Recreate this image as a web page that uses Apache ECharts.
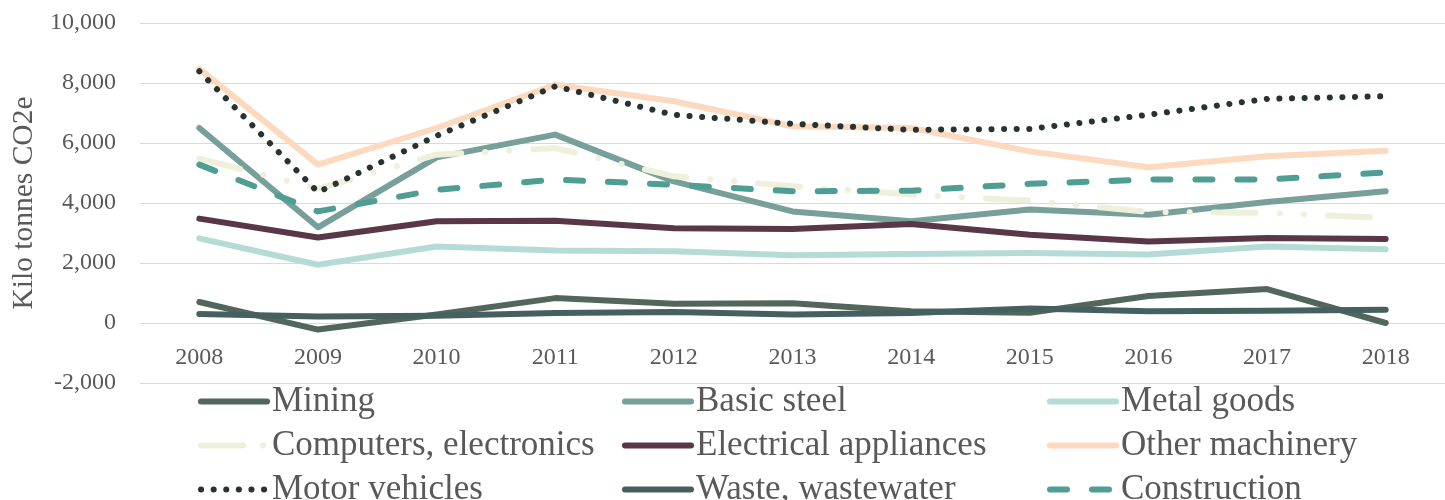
<!DOCTYPE html>
<html>
<head>
<meta charset="utf-8">
<script src="https://cdn.jsdelivr.net/npm/echarts@6/dist/echarts.min.js"></script>
<style>
  html, body { margin: 0; padding: 0; background: #fff; }
  #chart { width: 1445px; height: 500px; }
</style>
</head>
<body>
<div id="chart"></div>
<script>
// years on the category axis
const years = ['2008', '2009', '2010', '2011', '2012', '2013', '2014', '2015', '2016', '2017', '2018']

// kilo tonnes CO2e
const mining = [700, -220, 280, 830, 640, 660, 390, 340, 900, 1130, 0]
const basicSteel = [6500, 3190, 5520, 6280, 4720, 3720, 3390, 3780, 3610, 4030, 4390]
const metalGoods = [2820, 1940, 2550, 2420, 2390, 2260, 2300, 2330, 2280, 2550, 2460]
const computers = [5480, 4480, 5610, 5830, 4890, 4560, 4280, 4080, 3700, 3670, 3500]
const electrical = [3480, 2850, 3390, 3410, 3160, 3130, 3300, 2940, 2720, 2830, 2800]
const otherMachinery = [8470, 5280, 6500, 7940, 7390, 6560, 6500, 5720, 5190, 5560, 5740]
const motorVehicles = [8390, 4360, 6240, 7890, 6940, 6640, 6440, 6470, 6940, 7470, 7560]
const waste = [300, 220, 240, 330, 370, 280, 330, 480, 390, 410, 440]
const construction = [5280, 3720, 4440, 4780, 4610, 4390, 4410, 4640, 4780, 4780, 5020]

// legend order, read row by row (3 per row)
const legendNames = [
  'Mining', 'Basic steel', 'Metal goods',
  'Computers, electronics', 'Electrical appliances', 'Other machinery',
  'Motor vehicles', 'Waste, wastewater', 'Construction'
]

const FONT = '"Liberation Serif", serif'
const TEXT = '#595959'
const LW = 6

const chart = echarts.init(document.getElementById('chart'))

// one line series
const mkLine = (name, data, color, type) => ({
  name,
  type: 'line',
  data,
  symbol: 'none',
  smooth: false,
  lineStyle: { color, width: LW, type: type || 'solid', cap: 'round', join: 'round' },
  itemStyle: { color }
})

// one legend entry per cell of the 3x3 grid at the bottom
const colLeft = [198, 622, 1047]
const rowTop = [384, 428, 472]
const legends = legendNames.map((name, i) => {
  const item = { name }
  // the dash-dot pattern is too long for the key, show dash + dot like the original
  if (name === 'Computers, electronics') item.lineStyle = { type: [42, 20, 0.1, 30] }
  return {
    left: colLeft[i % 3],
    top: rowTop[Math.floor(i / 3)],
    itemWidth: 66,
    itemHeight: 14,
    padding: 0,
    data: [item],
    itemStyle: { opacity: 0 },
    lineStyle: { width: LW, cap: 'round' },
    textStyle: { fontFamily: FONT, fontSize: 35, lineHeight: 28, color: TEXT }
  }
})

const option = {
  animation: false,
  backgroundColor: '#fff',
  grid: { left: 140, right: -15, top: 23, bottom: 117 },
  legend: legends,
  xAxis: {
    type: 'category',
    data: years,
    boundaryGap: true,
    // labels sit just under the zero line
    offset: -60,
    axisLine: { show: false, onZero: false },
    axisTick: { show: false },
    axisLabel: { fontFamily: FONT, fontSize: 24, color: TEXT, margin: 23 }
  },
  yAxis: {
    type: 'value',
    min: -2000,
    max: 10000,
    interval: 2000,
    name: 'Kilo tonnes CO2e',
    nameLocation: 'middle',
    nameGap: 99,
    nameTextStyle: { fontFamily: FONT, fontSize: 29.5, color: TEXT },
    axisLine: { show: false },
    axisTick: { show: false },
    axisLabel: { fontFamily: FONT, fontSize: 24, color: TEXT, margin: 24 },
    splitLine: { lineStyle: { color: '#d9d9d9', width: 1 } }
  },
  series: [
    mkLine('Mining', mining, '#52665c'),
    mkLine('Basic steel', basicSteel, '#77a09b'),
    mkLine('Metal goods', metalGoods, '#b5dbd7'),
    mkLine('Computers, electronics', computers, '#eef0dc', [42, 24, 0.1, 24, 0.1, 24]),
    mkLine('Electrical appliances', electrical, '#5a3747'),
    mkLine('Other machinery', otherMachinery, '#fdd9bf'),
    mkLine('Motor vehicles', motorVehicles, '#28332f', [0.1, 12.5]),
    mkLine('Waste, wastewater', waste, '#46605f'),
    mkLine('Construction', construction, '#4f9e94', [17, 25])
  ]
}

chart.setOption(option)
</script>
</body>
</html>
